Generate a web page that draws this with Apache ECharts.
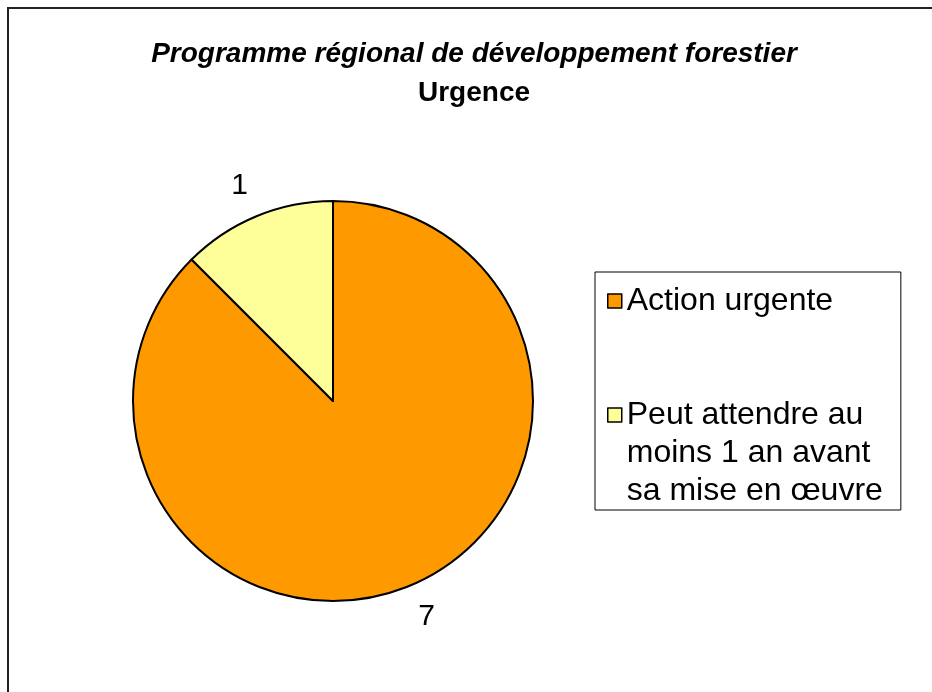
<!DOCTYPE html>
<html>
<head>
<meta charset="utf-8">
<style>
  html, body { margin: 0; padding: 0; background: #fff; }
  #chart { width: 932px; height: 692px; }
</style>
<script src="https://cdn.jsdelivr.net/npm/echarts@6/dist/echarts.min.js"></script>
</head>
<body>
<div id="chart"></div>
<script>
// Data
const categories = ["Action urgente", "Peut attendre au\nmoins 1 an avant\nsa mise en œuvre"];
const values = [7, 1];
const sliceColors = ["#FF9900", "#FFFF99"];

const titleText = "Programme régional de développement forestier";
const subTitleText = "Urgence";

let chartDom = document.getElementById("chart");
let myChart = echarts.init(chartDom);

const FONT = "'Liberation Sans', Arial, sans-serif";

let option = {
  backgroundColor: "#fff",
  animation: false,
  graphic: [
    {
      type: "rect",
      shape: { x: 8, y: 8, width: 1000, height: 1000 },
      style: { fill: "none", stroke: "#222", lineWidth: 2 },
      silent: true,
    },
  ],
  title: {
    text: titleText,
    subtext: subTitleText,
    left: 469,
    textAlign: "center",
    top: 35,
    padding: 5,
    itemGap: 11,
    textStyle: {
      fontFamily: FONT,
      fontSize: 28,
      fontWeight: "bold",
      fontStyle: "italic",
      color: "#000",
    },
    subtextStyle: {
      fontFamily: FONT,
      fontSize: 28,
      fontWeight: "bold",
      color: "#000",
    },
  },
  legend: {
    orient: "vertical",
    left: 595,
    top: 272,
    padding: [10, 18, 0, 12],
    itemGap: 0,
    itemWidth: 14,
    itemHeight: 14,
    itemStyle: { borderColor: "#000", borderWidth: 1.5 },
    icon: "rect",
    borderColor: "#000",
    borderWidth: 1,
    borderRadius: 0,
    textStyle: {
      fontFamily: FONT,
      fontSize: 32,
      color: "#000",
      lineHeight: 38,
    },
    formatter: function (name) {
      // center the first line on the marker, like the original
      let lines = name.split("\n");
      let pad = [];
      for (let i = 1; i < lines.length; i++) pad.push("");
      return pad.concat(lines).join("\n");
    },
    data: categories,
  },
  series: [
    {
      type: "pie",
      center: [333, 401],
      radius: 200,
      startAngle: 90,
      clockwise: true,
      avoidLabelOverlap: false,
      label: {
        show: true,
        position: "outside",
        formatter: "{c}",
        fontFamily: FONT,
        fontSize: 30,
        color: "#000",
        distanceToLabelLine: -4,
      },
      labelLine: { show: false, length: 33, length2: 0 },
      emphasis: { disabled: true },
      itemStyle: { borderColor: "#000", borderWidth: 2 },
      data: categories.map(function (c, i) {
        return { name: c, value: values[i], itemStyle: { color: sliceColors[i] } };
      }),
    },
  ],
};

myChart.setOption(option);
</script>
</body>
</html>
